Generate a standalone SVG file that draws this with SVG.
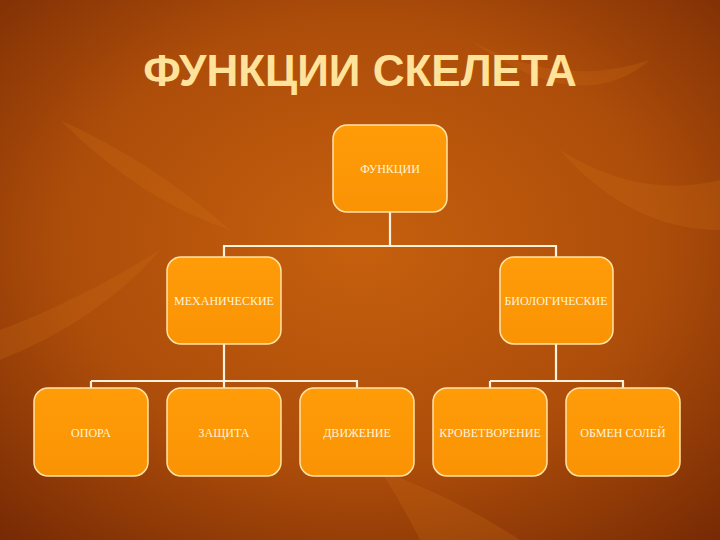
<svg xmlns="http://www.w3.org/2000/svg" width="720" height="540" viewBox="0 0 720 540">
<defs>
<radialGradient id="bg" cx="50%" cy="45%" r="75%">
<stop offset="0" stop-color="#C6600E"/>
<stop offset="0.55" stop-color="#AD4D0A"/>
<stop offset="1" stop-color="#762904"/>
</radialGradient>
<linearGradient id="nodeFill" x1="0" y1="0" x2="0" y2="1">
<stop offset="0" stop-color="#FF9C08"/>
<stop offset="1" stop-color="#FA9304"/>
</linearGradient>
</defs>
<style>
.node rect{fill:url(#nodeFill);stroke:#FFE4A8;stroke-width:1.5}
.node text{font-family:"Liberation Serif","Times New Roman",serif;font-size:12px;fill:#FFF4D8;text-anchor:middle;dominant-baseline:central}
.conn path{fill:none;stroke:#FFF2DC;stroke-width:2.2}
.leaf{fill:#D9781A;opacity:0.2}
.title{font-family:"Liberation Sans",Arial,sans-serif;font-weight:bold;font-size:44px;fill:#FFE39A;text-anchor:middle}
</style>
<rect width="720" height="540" fill="url(#bg)"/>
<g id="background-leaves">
<path class="leaf" d="M0 330 Q80 300 160 250 Q100 320 0 360 Z"/>
<path class="leaf" d="M470 40 Q560 90 650 60 Q580 120 470 40 Z"/>
<path class="leaf" d="M60 120 Q150 160 230 230 Q140 200 60 120 Z"/>
<path class="leaf" d="M560 150 Q640 200 720 180 L720 230 Q630 230 560 150 Z"/>
<path class="leaf" d="M380 470 Q460 500 520 540 L420 540 Q400 500 380 470 Z"/>
</g>
<text class="title" x="360" y="86">ФУНКЦИИ СКЕЛЕТА</text>
<g id="connectors" class="conn">
<path d="M390 212 V246 M223 246 H557 M224 246 V257 M556 246 V257"/>
<path d="M224 344 V381 M91 381 H358 M91 381 V388 M224 381 V388 M357 381 V388"/>
<path d="M556 344 V381 M490 381 H624 M490 381 V388 M623 381 V388"/>
</g>
<g id="n-root" class="node"><rect x="333" y="125" width="114" height="87" rx="14"/><text x="390" y="169">ФУНКЦИИ</text></g>
<g id="n-mech" class="node"><rect x="167" y="257" width="114" height="87" rx="14"/><text x="224" y="301">МЕХАНИЧЕСКИЕ</text></g>
<g id="n-bio" class="node"><rect x="500" y="257" width="113" height="87" rx="14"/><text x="556" y="301">БИОЛОГИЧЕСКИЕ</text></g>
<g id="n-opora" class="node"><rect x="34" y="388" width="114" height="88" rx="14"/><text x="91" y="433">ОПОРА</text></g>
<g id="n-zashchita" class="node"><rect x="167" y="388" width="114" height="88" rx="14"/><text x="224" y="433">ЗАЩИТА</text></g>
<g id="n-dvizhenie" class="node"><rect x="300" y="388" width="114" height="88" rx="14"/><text x="357" y="433">ДВИЖЕНИЕ</text></g>
<g id="n-krovetvorenie" class="node"><rect x="433" y="388" width="114" height="88" rx="14"/><text x="490" y="433">КРОВЕТВОРЕНИЕ</text></g>
<g id="n-obmen" class="node"><rect x="566" y="388" width="114" height="88" rx="14"/><text x="623" y="433">ОБМЕН СОЛЕЙ</text></g>
</svg>
